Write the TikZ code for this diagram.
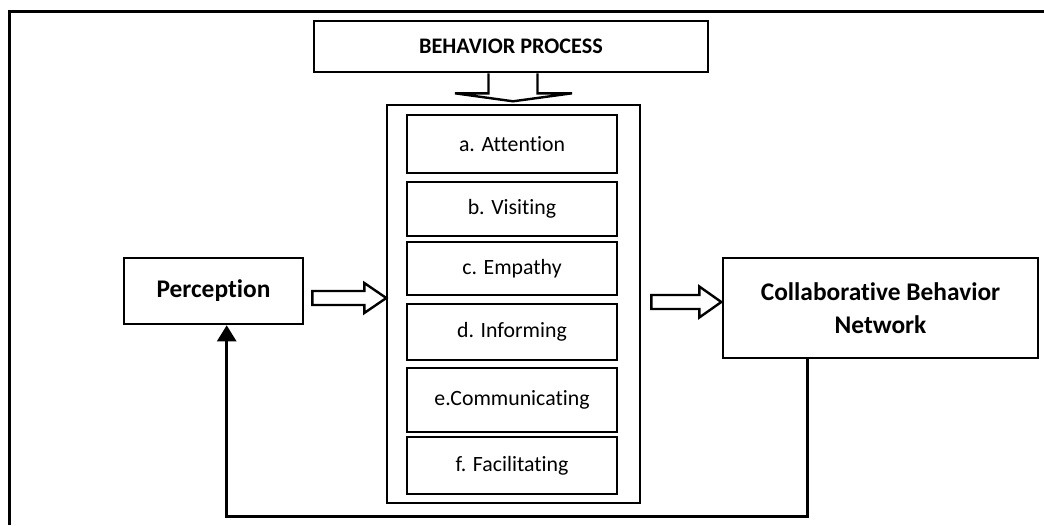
\documentclass[tikz,border=0pt]{standalone}
\usepackage{fontspec}
\setmainfont{Carlito}[Ligatures=NoCommon]
\usetikzlibrary{arrows.meta, positioning, calc}

\begin{document}
\begin{tikzpicture}[x=0.5pt, y=-0.5pt,
    frame/.style={draw, line width=1.3pt},
    itembox/.style={frame, minimum width=105pt, font=\fontsize{10.9}{13}\selectfont},
    mainbox/.style={frame, align=center, font=\fontsize{12.7}{16.5}\selectfont\bfseries},
    hollow/.style={draw, line width=1.2pt, fill=white, line join=miter}]
  \useasboundingbox (0,0) rectangle (1044,525);
  % page frame, only top and left edges show
  \draw[line width=1.5pt] (9,525) -- (9,11) -- (1044,11);
  % title and process column
  \node[frame, minimum width=197pt, minimum height=25.5pt, font=\fontsize{11.1}{13}\selectfont\bfseries] (title) at (511,46.5) {BEHAVIOR PROCESS};
  \node[frame, minimum width=126.5pt, minimum height=199pt] (proc) at (513.5,304) {};
  \node[itembox, minimum height=29pt] (att) at (512,144) {a. Attention};
  \node[itembox, minimum height=27pt] (vis) at (512,209) {b. Visiting};
  \node[itembox, minimum height=26.5pt] (emp) at (512,268.5) {c. Empathy};
  \node[itembox, minimum height=28pt] (inf) at (512,332) {d. Informing};
  \node[itembox, minimum height=32pt] (com) at (512,400) {e.Communicating};
  \node[itembox, minimum height=28.5pt] (fac) at (512,465.5) {f. Facilitating};
  % side boxes
  \node[mainbox, minimum width=89.5pt, minimum height=33pt] (perc) at (213.5,291) {Perception};
  \node[mainbox, minimum width=157.5pt, minimum height=50pt] (collab) at (880.5,308) {Collaborative Behavior\\Network};
  % block arrows
  \coordinate (dn) at ($(title.south)+(2,0)$);
  \draw[hollow] (dn) ++(-24.5,0) -- ++(0,20) -- ++(-33.5,0) -- ++(58,8) -- ++(59,-8) -- ++(-34.5,0) -- ++(0,-20);
  \coordinate (arrL) at ($(perc.east)+(8,7)$);
  \draw[hollow] (arrL) ++(0,-7) -- ++(52,0) -- ++(0,-8) -- ++(22,15) -- ++(-22,15) -- ++(0,-8) -- ++(-52,0) -- cycle;
  \coordinate (arrR) at ($(proc.east)+(10,-2)$);
  \draw[hollow] (arrR) ++(0,-7) -- ++(48,0) -- ++(0,-8.5) -- ++(22,15.5) -- ++(-22,15.5) -- ++(0,-8.5) -- ++(-48,0) -- cycle;
  % feedback loop
  \coordinate (fbout) at ($(collab.south west)+(86,0)$);
  \coordinate (fbin) at ($(perc.south west)+(104,0)$);
  \draw[line width=1.3pt, -{Triangle[width=9.5pt,length=8pt]}] (fbout) -- ++(0,157) -| (fbin);
\end{tikzpicture}
\end{document}
